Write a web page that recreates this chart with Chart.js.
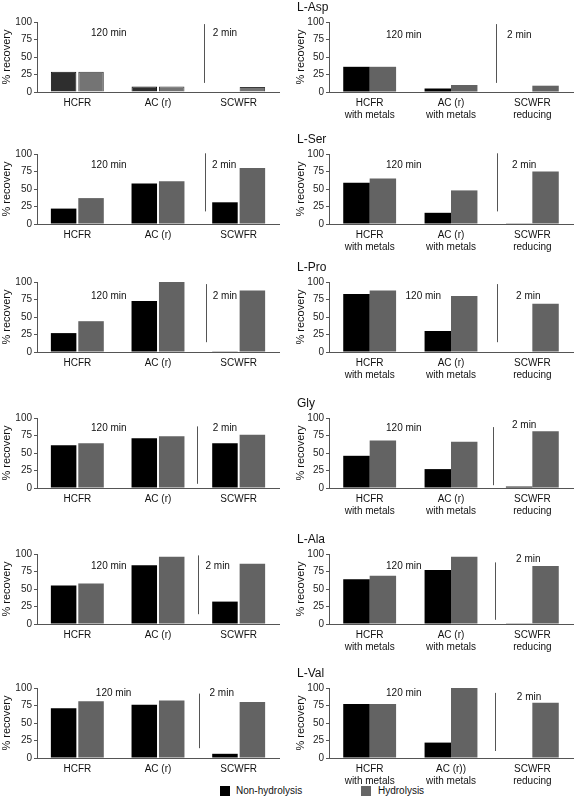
<!DOCTYPE html>
<html>
<head>
<meta charset="utf-8">
<script src="https://cdn.jsdelivr.net/npm/chart.js@4.4.1/dist/chart.umd.min.js"></script>
<style>
body { margin: 0; background: #fff; width: 576px; height: 804px; position: relative; overflow: hidden;
       font-family: "Liberation Sans", Arial, sans-serif; }
canvas { position: absolute; }
.legend { position: absolute; top: 785px; font-size: 10px; color: #111; line-height: 11px; }
.sw { position: absolute; top: 786px; width: 10px; height: 10px; }
</style>
</head>
<body>
<div class="sw" style="left:220px;background:#000"></div>
<div class="legend" style="left:236px">Non-hydrolysis</div>
<div class="sw" style="left:361px;background:#666"></div>
<div class="legend" style="left:378px">Hydrolysis</div>
<script>
(function() {

    var aminoAcids = ['L-Asp', 'L-Ser', 'L-Pro', 'Gly', 'L-Ala', 'L-Val'];
    var catsPlain = ['HCFR', 'AC (r)', 'SCWFR'];
    var catsMetals = [['HCFR', 'with metals'], ['AC (r)', 'with metals'], ['SCWFR', 'reducing']];
    var catsMetalsVal = [['HCFR', 'with metals'], ['AC (r))', 'with metals'], ['SCWFR', 'reducing']];
    var yTicks = [0, 25, 50, 75, 100];
    var seriesNames = ['Non-hydrolysis', 'Hydrolysis'];

    // % recovery, order HCFR / AC (r) / SCWFR
    var aspPlainNon = [29, 8, 0];
    var aspPlainHyd = [29, 8, 7];
    var aspMetalNon = [36, 5, 0];
    var aspMetalHyd = [36, 10, 9];

    var serPlainNon = [22, 58, 31];
    var serPlainHyd = [37, 61, 80];
    var serMetalNon = [59, 16, 1];
    var serMetalHyd = [65, 48, 75];

    var proPlainNon = [27, 73, 1];
    var proPlainHyd = [44, 100, 88];
    var proMetalNon = [83, 30, 0];
    var proMetalHyd = [88, 80, 69];

    var glyPlainNon = [61, 71, 64];
    var glyPlainHyd = [64, 74, 76];
    var glyMetalNon = [46, 27, 2];
    var glyMetalHyd = [68, 66, 81];

    var alaPlainNon = [55, 84, 32];
    var alaPlainHyd = [58, 96, 86];
    var alaMetalNon = [64, 77, 1];
    var alaMetalHyd = [69, 96, 83];

    var valPlainNon = [71, 76, 6];
    var valPlainHyd = [81, 82, 80];
    var valMetalNon = [77, 22, 0];
    var valMetalHyd = [77, 100, 79];

    // where the "120 min" / divider / "2 min" marks sit: [category index, value]
    var marksPlain = [
        { t120: [0.39, 84], line: [1.57, 97, 13], t2: [1.83, 84] },
        { t120: [0.39, 84], line: [1.58, 101, 18], t2: [1.82, 84] },
        { t120: [0.39, 80], line: [1.60, 97, 14], t2: [1.83, 80] },
        { t120: [0.39, 86], line: [1.48, 88, 6], t2: [1.83, 86] },
        { t120: [0.39, 82], line: [1.50, 98, 14], t2: [1.74, 82] },
        { t120: [0.45, 92], line: [1.51, 92, 14], t2: [1.79, 92] }
    ];
    var marksMetal = [
        { t120: [0.42, 81], line: [1.55, 97, 13], t2: [1.84, 81] },
        { t120: [0.42, 84], line: [1.57, 101, 18], t2: [1.90, 84] },
        { t120: [0.66, 80], line: [1.57, 97, 14], t2: [1.95, 80] },
        { t120: [0.42, 86], line: [1.52, 87, 4], t2: [1.90, 90] },
        { t120: [0.42, 82], line: [1.54, 88, 6], t2: [1.95, 92] },
        { t120: [0.42, 92], line: [1.54, 93, 10], t2: [1.96, 87] }
    ];

    var plainNon = [aspPlainNon, serPlainNon, proPlainNon, glyPlainNon, alaPlainNon, valPlainNon];
    var plainHyd = [aspPlainHyd, serPlainHyd, proPlainHyd, glyPlainHyd, alaPlainHyd, valPlainHyd];
    var metalNon = [aspMetalNon, serMetalNon, proMetalNon, glyMetalNon, alaMetalNon, valMetalNon];
    var metalHyd = [aspMetalHyd, serMetalHyd, proMetalHyd, glyMetalHyd, alaMetalHyd, valMetalHyd];

    var areaTops = [22, 154, 282, 418, 554, 688];
    var FONT = '"Liberation Sans", Arial, sans-serif';

    var marksPlugin = {
        id: 'marks',
        afterDatasetsDraw: function(chart, args, opts) {
            var ctx = chart.ctx, x = chart.scales.x, y = chart.scales.y;
            ctx.save();
            ctx.fillStyle = '#111';
            ctx.font = '10px ' + FONT;
            ctx.textAlign = 'center';
            ctx.textBaseline = 'middle';
            ctx.fillText('120 min', x.getPixelForValue(opts.t120[0]), y.getPixelForValue(opts.t120[1]));
            ctx.fillText('2 min', x.getPixelForValue(opts.t2[0]), y.getPixelForValue(opts.t2[1]));
            var lx = Math.round(x.getPixelForValue(opts.line[0])) + 0.5;
            ctx.strokeStyle = '#555';
            ctx.lineWidth = 1;
            ctx.beginPath();
            ctx.moveTo(lx, y.getPixelForValue(opts.line[1]));
            ctx.lineTo(lx, y.getPixelForValue(opts.line[2]));
            ctx.stroke();
            if (opts.title) {
                ctx.textAlign = 'left';
                ctx.font = '12px ' + FONT;
                ctx.fillText(opts.title, opts.titleX, chart.chartArea.top - 14);
            }
            ctx.restore();
        }
    };

    function makePanel(col, row, labels, non, hyd, marks, title) {
        var canvas = document.createElement('canvas');
        canvas.width = 288;
        canvas.height = 128;
        canvas.style.left = (col === 0 ? 0 : 288) + 'px';
        canvas.style.top = (areaTops[row] - 22) + 'px';
        document.body.appendChild(canvas);

        var yW = col === 0 ? 37 : 41;
        var padR = col === 0 ? 9 : 3;
        var outlined = (col === 0 && row === 0);
        marks.title = title;
        marks.titleX = 9;

        new Chart(canvas.getContext('2d'), {
            type: 'bar',
            data: {
                labels: labels,
                datasets: [{
                    label: seriesNames[0],
                    data: non,
                    backgroundColor: outlined ? '#2e2e2e' : '#000',
                    borderColor: '#111',
                    borderWidth: outlined ? 1 : 0,
                    categoryPercentage: col === 0 ? 0.68 : 0.65,
                    barPercentage: col === 0 ? 0.93 : 1
                }, {
                    label: seriesNames[1],
                    data: hyd,
                    backgroundColor: outlined ? '#747474' : '#636363',
                    borderColor: '#3a3a3a',
                    borderWidth: outlined ? 1 : 0,
                    categoryPercentage: col === 0 ? 0.68 : 0.65,
                    barPercentage: col === 0 ? 0.93 : 1
                }]
            },
            options: {
                responsive: false,
                animation: false,
                devicePixelRatio: 1,
                layout: { padding: { top: 22, right: padR, left: 0, bottom: 0 } },
                plugins: {
                    legend: { display: false },
                    tooltip: { enabled: false },
                    marks: marks
                },
                scales: {
                    x: {
                        afterFit: function(s) { s.height = 36; },
                        grid: { drawOnChartArea: false, drawTicks: false },
                        border: { color: '#555', width: 1 },
                        ticks: { color: '#111', font: { size: 10, family: FONT }, padding: 5,
                                 maxRotation: 0, autoSkip: false }
                    },
                    y: {
                        min: 0,
                        max: 100,
                        afterFit: function(s) { s.width = yW; },
                        afterBuildTicks: function(s) { s.ticks = yTicks.map(function(v) { return { value: v }; }); },
                        grid: { drawOnChartArea: false, drawTicks: true, tickLength: 3, color: '#555' },
                        border: { color: '#555', width: 1 },
                        ticks: { color: '#222', font: { size: 10, family: FONT }, padding: 2 },
                        title: { display: true, text: '% recovery', color: '#111',
                                 font: { size: 11, family: FONT }, padding: { top: col === 0 ? 0 : 6, bottom: 0 } }
                    }
                }
            },
            plugins: [marksPlugin]
        });
    }

    for (var i = 0; i < aminoAcids.length; i++) {
        makePanel(0, i, catsPlain, plainNon[i], plainHyd[i], marksPlain[i], null);
        makePanel(1, i, i === 5 ? catsMetalsVal : catsMetals, metalNon[i], metalHyd[i], marksMetal[i], aminoAcids[i]);
    }
})();
</script>
</body>
</html>
